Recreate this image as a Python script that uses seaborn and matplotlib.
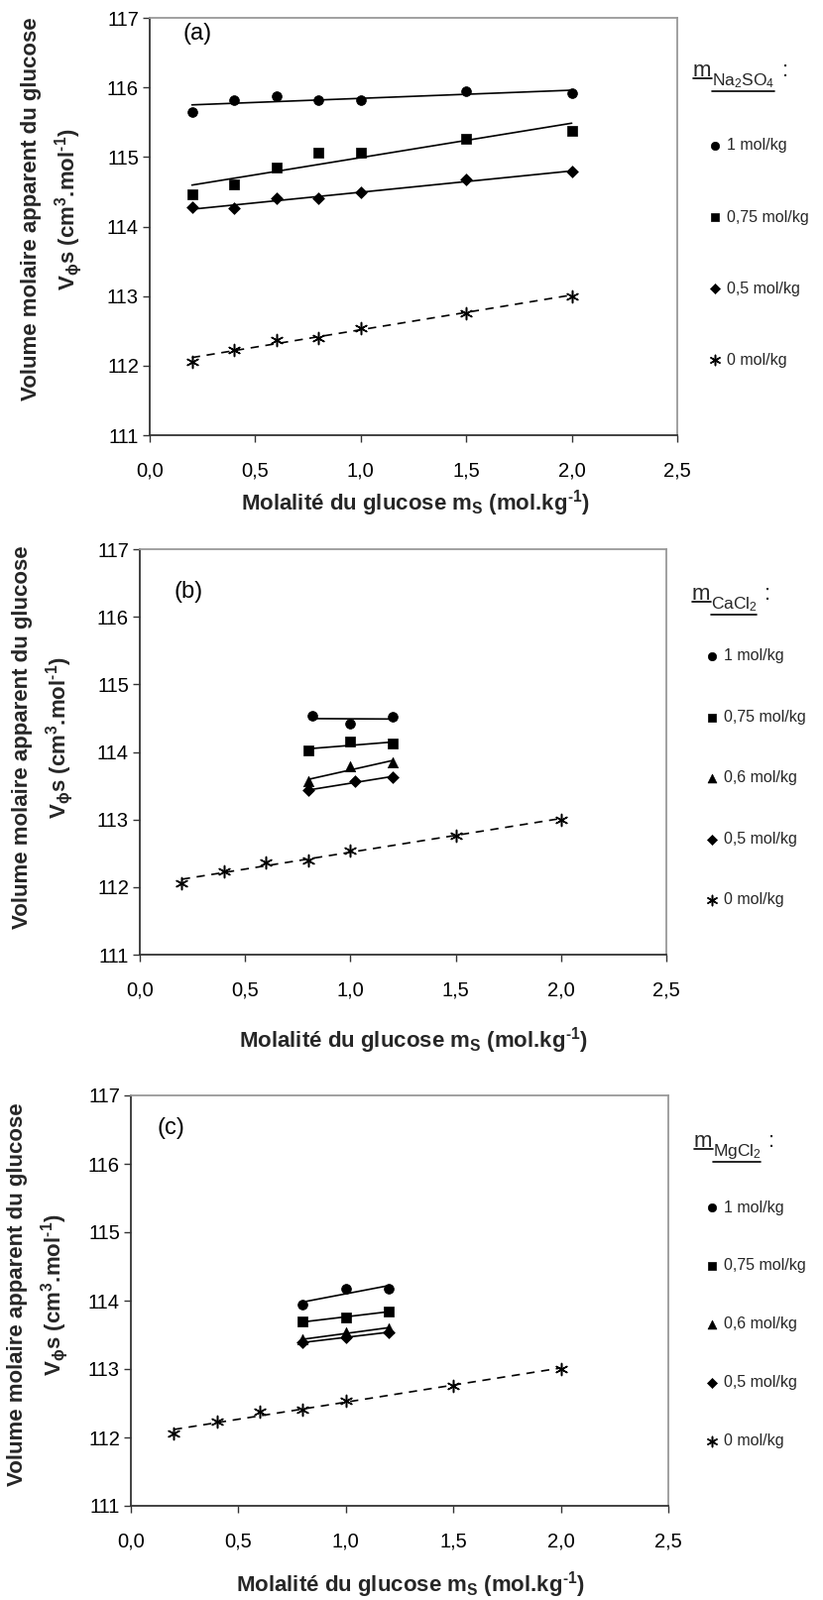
import numpy as np
import pandas as pd
import seaborn as sns
import matplotlib
matplotlib.use("Agg")
import matplotlib.pyplot as plt
from matplotlib.lines import Line2D

# ---------------- data ----------------
x_a = [0.2, 0.4, 0.6, 0.8, 1.0, 1.5, 2.0]
na2so4_1 = [115.65, 115.82, 115.87, 115.82, 115.82, 115.94, 115.92]
na2so4_075 = [114.47, 114.61, 114.85, 115.06, 115.06, 115.26, 115.38]
na2so4_05 = [114.28, 114.26, 114.40, 114.41, 114.49, 114.67, 114.79]

x_water = [0.2, 0.4, 0.6, 0.8, 1.0, 1.5, 2.0]
water_0 = [112.06, 112.23, 112.37, 112.40, 112.54, 112.76, 113.00]

x_cacl2_1 = [0.82, 1.0, 1.2]
x_cacl2 = [0.8, 1.0, 1.2]
x_cacl2_05 = [0.8, 1.02, 1.2]
cacl2_1 = [114.53, 114.42, 114.52]
cacl2_075 = [114.02, 114.15, 114.12]
cacl2_06 = [113.57, 113.78, 113.85]
cacl2_05 = [113.43, 113.56, 113.63]

x_mgcl2 = [0.8, 1.0, 1.2]
mgcl2_1 = [113.94, 114.18, 114.18]
mgcl2_075 = [113.69, 113.76, 113.84]
mgcl2_06 = [113.43, 113.53, 113.60]
mgcl2_05 = [113.39, 113.46, 113.54]

x_ticks = [0.0, 0.5, 1.0, 1.5, 2.0, 2.5]
x_tick_labels = ["0,0", "0,5", "1,0", "1,5", "2,0", "2,5"]
y_ticks = [111, 112, 113, 114, 115, 116, 117]
y_tick_labels = ["111", "112", "113", "114", "115", "116", "117"]

lab_1 = "1 mol/kg"
lab_075 = "0,75 mol/kg"
lab_06 = "0,6 mol/kg"
lab_05 = "0,5 mol/kg"
lab_0 = "0 mol/kg"

# ---------------- style ----------------
sns.set_theme(style="white")
plt.rcParams["font.family"] = ["Liberation Sans", "DejaVu Sans"]
plt.rcParams["mathtext.fontset"] = "custom"
plt.rcParams["mathtext.rm"] = "Liberation Sans"
plt.rcParams["mathtext.it"] = "Liberation Sans:italic"
plt.rcParams["mathtext.bf"] = "Liberation Sans:bold"
plt.rcParams["mathtext.default"] = "regular"

W, H = 830, 1614
fig = plt.figure(figsize=(W / 100, H / 100), dpi=100)
fig.patch.set_facecolor("white")

STAR = (6, 2, 0)
MK = {"o": 50, "s": 48, "D": 36, "^": 56, STAR: 75}

def make_axes(left, top, right, bottom):
    return fig.add_axes([left / W, 1 - bottom / H, (right - left) / W, (bottom - top) / H])

def series(ax, xs, ys, marker, dashed=False):
    if marker == STAR:
        sns.scatterplot(x=xs, y=ys, marker=marker, s=MK[marker], color="black",
                        edgecolor="black", linewidth=1.1, ax=ax, zorder=4)
    else:
        sns.scatterplot(x=xs, y=ys, marker=marker, s=MK[marker], color="black",
                        edgecolor="black", linewidth=0.5, ax=ax, zorder=4)
    handle = ax.collections[-1]
    sns.regplot(x=np.array(xs), y=np.array(ys), scatter=False, ci=None, truncate=True,
                color="black", ax=ax,
                line_kws=dict(lw=1.2, ls=(0, (5, 4)) if dashed else "-", zorder=3))
    return handle

def style_axes(ax):
    ax.set_xlim(0, 2.5)
    ax.set_ylim(111, 117)
    ax.set_xticks(x_ticks)
    ax.set_xticklabels(x_tick_labels)
    ax.set_yticks(y_ticks)
    ax.set_yticklabels(y_tick_labels)
    ax.set_xlabel("")
    ax.set_ylabel("")
    ax.tick_params(axis="both", direction="out", length=5, width=1, color="#333333",
                   labelsize=14.5, labelcolor="black")
    ax.tick_params(axis="x", pad=14, bottom=True)
    ax.tick_params(axis="y", pad=3, left=True)
    for side in ["left", "bottom"]:
        ax.spines[side].set_color("#333333")
        ax.spines[side].set_linewidth(1.3)
    for side in ["top", "right"]:
        ax.spines[side].set_color("#999999")
        ax.spines[side].set_linewidth(1.3)
    ax.set_facecolor("white")

YLAB = "Volume molaire apparent du glucose\nV$_{\\mathbf{\\phi}}$s (cm$^{\\mathbf{3}}$.mol$^{\\mathbf{\u20101}}$)"
XLAB = "Molalité du glucose m$_{\\mathbf{S}}$ (mol.kg$^{\\mathbf{\u20101}}$)"

panels = []

# ---- panel (a)
ax = make_axes(151, 18, 683, 439)
h = [series(ax, x_a, na2so4_1, "o"),
     series(ax, x_a, na2so4_075, "s"),
     series(ax, x_a, na2so4_05, "D"),
     series(ax, x_water, water_0, STAR, dashed=True)]
labels = [lab_1, lab_075, lab_05, lab_0]
style_axes(ax)
panels.append(dict(ax=ax, handles=h, labels=labels, tag="(a)", tag_xy=(184, 23),
                   ylab_xy=(53, 211), xlab_xy=(419, 508),
                   leg_xy=(714.5, 139.5), spacing=3.57,
                   title_sub="Na$_2$SO$_4$", title_xy=(699, 77)))

# ---- panel (b)
ax = make_axes(141, 554, 672, 963)
h = [series(ax, x_cacl2_1, cacl2_1, "o"),
     series(ax, x_cacl2, cacl2_075, "s"),
     series(ax, x_cacl2, cacl2_06, "^"),
     series(ax, x_cacl2_05, cacl2_05, "D"),
     series(ax, x_water, water_0, STAR, dashed=True)]
labels = [lab_1, lab_075, lab_06, lab_05, lab_0]
style_axes(ax)
panels.append(dict(ax=ax, handles=h, labels=labels, tag="(b)", tag_xy=(175, 586),
                   ylab_xy=(44, 744), xlab_xy=(417, 1050),
                   leg_xy=(711.5, 654.5), spacing=2.91,
                   title_sub="CaCl$_2$", title_xy=(698, 605)))

# ---- panel (c)
ax = make_axes(132, 1105, 674, 1519)
h = [series(ax, x_mgcl2, mgcl2_1, "o"),
     series(ax, x_mgcl2, mgcl2_075, "s"),
     series(ax, x_mgcl2, mgcl2_06, "^"),
     series(ax, x_mgcl2, mgcl2_05, "D"),
     series(ax, x_water, water_0, STAR, dashed=True)]
labels = [lab_1, lab_075, lab_06, lab_05, lab_0]
style_axes(ax)
panels.append(dict(ax=ax, handles=h, labels=labels, tag="(c)", tag_xy=(158, 1127),
                   ylab_xy=(39, 1306), xlab_xy=(414, 1599),
                   leg_xy=(711.5, 1210.5), spacing=2.75,
                   title_sub="MgCl$_2$", title_xy=(700, 1157)))

title_parts = []
for p in panels:
    ax = p["ax"]
    ax.text(p["tag_xy"][0] / W, 1 - p["tag_xy"][1] / H, p["tag"], transform=fig.transFigure,
            ha="left", va="top", fontsize=17, color="black")
    fig.text(p["ylab_xy"][0] / W, 1 - p["ylab_xy"][1] / H, YLAB, rotation=90,
             ha="center", va="center", fontsize=16, fontweight="bold",
             multialignment="center", linespacing=1.5)
    fig.text(p["xlab_xy"][0] / W, 1 - p["xlab_xy"][1] / H, XLAB,
             ha="center", va="center", fontsize=16, fontweight="bold")
    ax.legend(handles=p["handles"], labels=p["labels"], loc="upper left",
              bbox_to_anchor=(p["leg_xy"][0] / W, 1 - p["leg_xy"][1] / H),
              bbox_transform=fig.transFigure, frameon=False, fontsize=11.5,
              borderpad=0, borderaxespad=0, handlelength=0.8, handletextpad=0.35,
              labelspacing=p["spacing"], markerscale=0.85, scatterpoints=1)
    tx, ty = p["title_xy"]
    tm = fig.text(tx / W, 1 - ty / H, "m", fontsize=16, ha="left", va="baseline")
    title_parts.append((tm, p))

fig.canvas.draw()
r = fig.canvas.get_renderer()
for tm, p in title_parts:
    bb = tm.get_window_extent(r)
    base_y = 1 - p["title_xy"][1] / H
    ts = fig.text(bb.x1 / W, base_y - 9 / H, p["title_sub"], fontsize=12.5,
                  ha="left", va="baseline")
    fig.canvas.draw()
    bs = ts.get_window_extent(r)
    fig.text(bs.x1 / W + 8 / W, base_y, ":", fontsize=16, ha="left", va="baseline")
    fig.add_artist(Line2D([bb.x0 / W, bb.x1 / W], [base_y - 2 / H, base_y - 2 / H],
                          transform=fig.transFigure, color="black", lw=1.2))
    fig.add_artist(Line2D([bs.x0 / W, bs.x1 / W], [bs.y0 / H - 1 / H, bs.y0 / H - 1 / H],
                          transform=fig.transFigure, color="black", lw=1.2))

fig.savefig("out.png", dpi=100, facecolor="white")
